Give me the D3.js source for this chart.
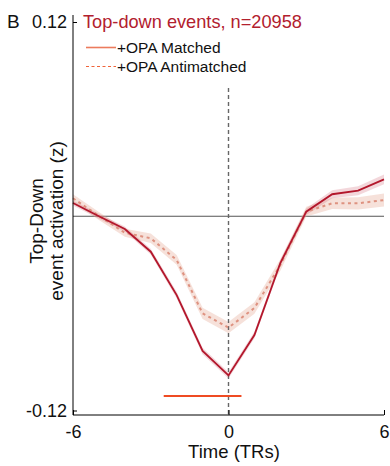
<!DOCTYPE html>
<html>
<head>
<meta charset="utf-8">
<script src="https://cdn.jsdelivr.net/npm/d3@7"></script>
<style>
html,body{margin:0;padding:0;background:#fff;}
svg{display:block;font-family:"Liberation Sans",Arial,Helvetica,sans-serif;}
</style>
</head>
<body>
<svg id="chart" width="390" height="466"></svg>
<script>
const timeTRs = [-6,-5,-4,-3,-2,-1,0,1,2,3,4,5,6];
const matched = [0.0082,0.0000,-0.0079,-0.0219,-0.0487,-0.0832,-0.0983,-0.0734,-0.0289,0.0028,0.0136,0.0158,0.0228];
const matchedSem = [0.0015,0.0015,0.0015,0.0018,0.0020,0.0020,0.0020,0.0020,0.0020,0.0020,0.0025,0.0028,0.0030];
const antimatched = [0.0111,0.0002,-0.0102,-0.0136,-0.0270,-0.0600,-0.0688,-0.0567,-0.0301,0.0028,0.0080,0.0080,0.0100];
const antimatchedSem = [0.0025,0.0025,0.0025,0.0030,0.0030,0.0035,0.0035,0.0035,0.0035,0.0030,0.0035,0.0038,0.0040];
const sigRange = [-2.5, 0.5];
const sigLevel = -0.111;
const xTicks = [-6, 0, 6];
const yTicks = [-0.12, 0.12];
const titleText = "Top-down events, n=20958";
const legendLabels = ["+OPA Matched", "+OPA Antimatched"];

const svg = d3.select("#chart");
const x = d3.scaleLinear().domain([-6, 6]).range([73, 384]);
const y = d3.scaleLinear().domain([-0.12, 0.12]).range([410.5, 22]);
const axisBottomY = 415, axisTopY = 15;

const mData = timeTRs.map((t,i)=>({t, v: matched[i], s: matchedSem[i]}));
const aData = timeTRs.map((t,i)=>({t, v: antimatched[i], s: antimatchedSem[i]}));

const area = d3.area().x(d=>x(d.t)).y0(d=>y(d.v - d.s)).y1(d=>y(d.v + d.s));
const line = d3.line().x(d=>x(d.t)).y(d=>y(d.v));

// zero line
svg.append("line").attr("x1", x(-6)).attr("x2", x(6)).attr("y1", y(0)).attr("y2", y(0))
  .attr("stroke", "#555").attr("stroke-width", 1.2);

// bands
svg.append("path").datum(aData).attr("d", area).attr("fill", "#e9b3a3").attr("fill-opacity", 0.4);
svg.append("path").datum(mData).attr("d", area).attr("fill", "#c8485a").attr("fill-opacity", 0.22);

// vertical dashed line at 0
svg.append("line").attr("x1", x(0)).attr("x2", x(0)).attr("y1", 88).attr("y2", axisBottomY)
  .attr("stroke", "#666").attr("stroke-width", 1.4).attr("stroke-dasharray", "4,3");

// lines
svg.append("path").datum(aData).attr("d", line).attr("fill", "none")
  .attr("stroke", "#de9280").attr("stroke-width", 2).attr("stroke-dasharray", "3,3.5");
svg.append("path").datum(mData).attr("d", line).attr("fill", "none")
  .attr("stroke", "#b3172c").attr("stroke-width", 1.8);

// significance bar
svg.append("line").attr("x1", x(sigRange[0])).attr("x2", x(sigRange[1]))
  .attr("y1", y(sigLevel)).attr("y2", y(sigLevel))
  .attr("stroke", "#ef4b23").attr("stroke-width", 2);

// axes
const xAxis = d3.axisBottom(x).tickValues(xTicks).tickSizeInner(-5).tickSizeOuter(0).tickPadding(10).tickFormat(d3.format("d"));
const gx = svg.append("g").attr("transform", `translate(0,${axisBottomY})`).call(xAxis);
gx.select(".domain").remove();
gx.append("line").attr("x1", x(-6)).attr("x2", x(6)).attr("y1", 0).attr("y2", 0).attr("stroke", "#000").attr("stroke-width", 1);
gx.selectAll(".tick text").attr("font-size", 18).attr("fill", "#111").attr("font-family", "Liberation Sans, Arial, sans-serif")
  .text(d => d < 0 ? "-" + Math.abs(d) : d);
gx.selectAll(".tick line").attr("stroke", "#000");

const yAxis = d3.axisLeft(y).tickValues(yTicks).tickSizeInner(-4).tickSizeOuter(0).tickPadding(6)
  .tickFormat(d => (d < 0 ? "-" : "") + Math.abs(d).toFixed(2));
const gy = svg.append("g").attr("transform", `translate(${x(-6)},0)`).call(yAxis);
gy.select(".domain").remove();
gy.append("line").attr("x1", 0).attr("x2", 0).attr("y1", axisTopY).attr("y2", axisBottomY).attr("stroke", "#000").attr("stroke-width", 1);
gy.selectAll(".tick text").attr("font-size", 18).attr("fill", "#111").attr("font-family", "Liberation Sans, Arial, sans-serif");
gy.selectAll(".tick line").attr("stroke", "#000");

// x label
svg.append("text").attr("x", 234).attr("y", 458).attr("text-anchor", "middle")
  .attr("font-size", 18.5).attr("fill", "#111").text("Time (TRs)");

// y label
const yl = svg.append("text").attr("transform", "translate(43,221) rotate(-90)").attr("text-anchor", "middle")
  .attr("font-size", 19).attr("fill", "#111");
yl.append("tspan").attr("x", 0).attr("dy", 0).text("Top-Down");
yl.append("tspan").attr("x", 0).attr("dy", 20).text("event activation (z)");

// panel letter
svg.append("text").attr("x", 7).attr("y", 28).attr("font-size", 19).attr("fill", "#111").text("B");

// title
svg.append("text").attr("x", 83).attr("y", 28).attr("font-size", 18.2).attr("fill", "#b2202e").text(titleText);

// legend
const legend = svg.append("g");
const legStyles = [{stroke:"#ec7b5d", dash:null, w:1.6}, {stroke:"#f0643a", dash:"3,2.5", w:1.2}];
const legY = [47.5, 66.5];
legendLabels.forEach((lab, i) => {
  legend.append("line").attr("x1", 86).attr("x2", 116).attr("y1", legY[i]).attr("y2", legY[i])
    .attr("stroke", legStyles[i].stroke).attr("stroke-width", legStyles[i].w)
    .attr("stroke-dasharray", legStyles[i].dash);
  legend.append("text").attr("x", 117).attr("y", legY[i] + 5.5).attr("font-size", 15.5).attr("fill", "#111").text(lab);
});
</script>
</body>
</html>
